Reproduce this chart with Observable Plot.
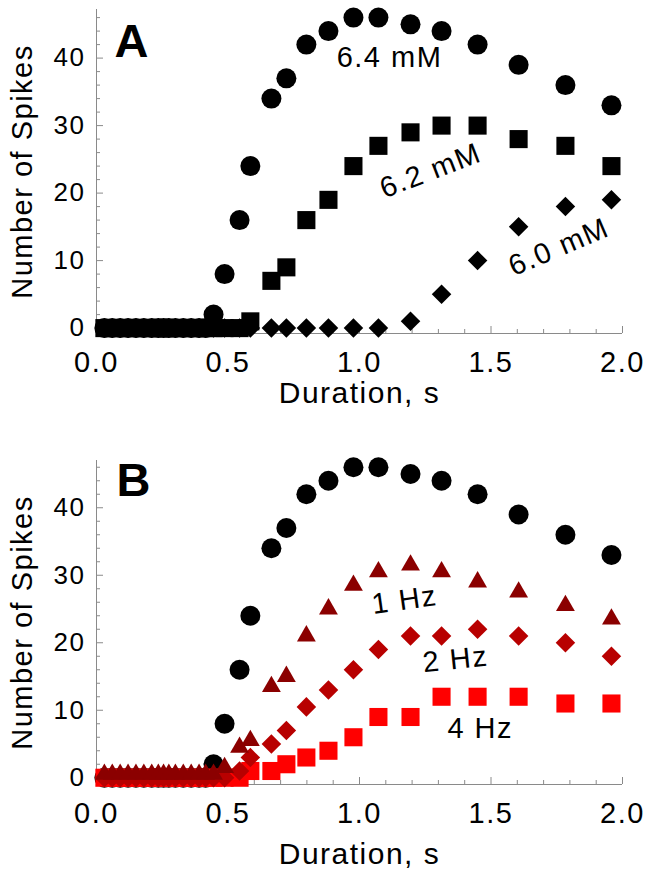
<!DOCTYPE html>
<html><head><meta charset="utf-8">
<script src="https://cdn.jsdelivr.net/npm/d3@7"></script>
<script src="https://cdn.jsdelivr.net/npm/@observablehq/plot@0.6"></script>
<style>
html,body{margin:0;padding:0;background:#fff;overflow:hidden;}
#chart svg text{letter-spacing:1.5px;}
</style></head>
<body><div id="chart"></div>
<script>
// Stimulus durations (s)
const duration = [0.03,0.06,0.09,0.12,0.15,0.18,0.21,0.235,0.255,0.275,0.30,0.33,0.36,0.39,0.415,
  0.445,0.487,0.544,0.585,0.665,0.722,0.798,0.882,0.977,1.072,1.194,1.312,1.449,1.605,1.783,1.958];

// Panel A: [K+] series
const spikes64 = [0,0,0,0,0,0,0,0,0,0,0,0,0,0,0, 2,8,16,24,34,37,42,44,46,46,45,44,42,39,36,33];
const spikes62 = [0,0,0,0,0,0,0,0,0,0,0,0,0,0,0,0,0,0, 1,7,9,16,19,24,27,29,30,30,28,27,24];
const spikes60 = [0,0,0,0,0,0,0,0,0,0,0,0,0,0,0,0,0,0,0,0,0,0,0,0,0, 1,5,10,15,18,19];

// Panel B: frequency series
const hz1 = [0.5,0.5,0.5,0.5,0.5,0.5,0.5,0.5,0.5,0.5,0.5,0.5,0.5,0.5,0.5,0.5, 1.5,4.5,5.5,13.5,15,21,25,28.5,30.5,31.5,30.5,29,27.5,25.5,23.5];
const hz2 = [0,0,0,0,0,0,0,0,0,0,0,0,0,0,0,0,0, 1,3,5,7,10.5,13,16,19,21,21,22,21,20,18];
const hz4 = [0,0,0,0,0,0,0,0,0,0,0,0,0,0,0,0,0,0, 1,1,2,3,4,6,9,9,12,12,12,11,11];

// Annotations
const notesALabel = ["6.4 mM", "6.2 mM", "6.0 mM"];
const notesAX = [1.114, 1.27, 1.758];
const notesAY = [40.0, 23.3, 12.0];
const notesAAngle = [0, -21, -23];
const notesBLabel = ["1 Hz", "2 Hz", "4 Hz"];
const notesBX = [1.171, 1.365, 1.459];
const notesBY = [26.3, 17.5, 7.25];
const notesBAngle = [-8, -6, 0];

// Ticks
const xMajor = [0, 0.5, 1.0, 1.5, 2.0];
const xMinor = [0.1,0.2,0.3,0.4,0.6,0.7,0.8,0.9,1.1,1.2,1.3,1.4,1.6,1.7,1.8,1.9];
const yMajor = [0, 10, 20, 30, 40];
const yMinor = [2,4,6,8,12,14,16,18,22,24,26,28,32,34,36,38,42,44,46];

const xDomain = [0, 2];
const axisColor = "#8a8a8a";
const font = "'Liberation Sans', Arial, sans-serif";

const rows = (ys) => duration.map((x, i) => ({x, y: ys[i]}));
const notes = (labels, xs, ys, angles) => labels.map((t, i) => ({t, x: xs[i], y: ys[i], a: angles[i]}));

function axes(yDomain, labelDy) {
  return [
    Plot.ruleX([xDomain[0]], {stroke: axisColor}),
    Plot.ruleY([yDomain[0]], {stroke: axisColor}),
    Plot.axisX(xMinor, {tickSize: -4, tickFormat: () => "", label: null, stroke: axisColor}),
    Plot.axisX(xMajor, {tickSize: -7, tickFormat: () => "", label: null, stroke: axisColor}),
    Plot.axisX(xMajor, {tickSize: 0, tickPadding: 17.5, tickFormat: d3.format(".1f"), label: null, fontSize: 29, fill: "black"}),
    Plot.axisY(yMinor, {tickSize: -4, tickFormat: () => "", label: null, stroke: axisColor}),
    Plot.axisY(yMajor, {tickSize: -7, tickFormat: () => "", label: null, stroke: axisColor}),
    Plot.axisY(yMajor, {tickSize: 0, tickPadding: 11, label: null, fontSize: 26, fill: "black"}),
    Plot.text(["Number of Spikes"], {frameAnchor: "left", rotate: -90, dx: -74, textAnchor: "middle", lineAnchor: "middle", fontSize: 29, fill: "black"}),
    Plot.text(["Duration, s"], {frameAnchor: "bottom", dy: labelDy, textAnchor: "middle", lineAnchor: "middle", fontSize: 30, fill: "black"})
  ];
}

const style = {fontFamily: font, background: "white", overflow: "visible"};

const yDomainA = [-0.8, 47.2];
const plotA = Plot.plot({
  width: 652, height: 440,
  marginLeft: 96, marginRight: 30, marginTop: 9, marginBottom: 107,
  x: {domain: xDomain}, y: {domain: yDomainA},
  style,
  marks: [
    ...axes(yDomainA, 60),
    Plot.dot(rows(spikes64), {x: "x", y: "y", symbol: "circle", r: 10, fill: "black"}),
    Plot.dot(rows(spikes62), {x: "x", y: "y", symbol: "square", r: 10.2, fill: "black"}),
    Plot.dot(rows(spikes60), {x: "x", y: "y", symbol: "diamond2", r: 8.8, fill: "black"}),
    Plot.text(notes(notesALabel, notesAX, notesAY, notesAAngle), {x: "x", y: "y", text: "t", rotate: "a", fontSize: 29, fill: "black"}),
    Plot.text(["A"], {frameAnchor: "top-left", dx: 18, dy: 47.7, textAnchor: "start", lineAnchor: "bottom", fontWeight: "bold", fontSize: 47, fill: "black"})
  ]
});

const yDomainB = [-1.0, 47];
const plotB = Plot.plot({
  width: 652, height: 444,
  marginLeft: 96, marginRight: 30, marginTop: 20, marginBottom: 100,
  x: {domain: xDomain}, y: {domain: yDomainB},
  style,
  marks: [
    ...axes(yDomainB, 70),
    Plot.dot(rows(spikes64), {x: "x", y: "y", symbol: "circle", r: 10, fill: "black"}),
    Plot.dot(rows(hz4), {x: "x", y: "y", symbol: "square", r: 10.2, fill: "#ff0000"}),
    Plot.dot(rows(hz2), {x: "x", y: "y", symbol: "diamond2", r: 8.8, fill: "#b80000"}),
    Plot.dot(rows(hz1), {x: "x", y: "y", symbol: "triangle", r: 7, fill: "#8b0000"}),
    Plot.text(notes(notesBLabel, notesBX, notesBY, notesBAngle), {x: "x", y: "y", text: "t", rotate: "a", fontSize: 29, fill: "black"}),
    Plot.text(["B"], {frameAnchor: "top-left", dx: 20, dy: 35.7, textAnchor: "start", lineAnchor: "bottom", fontWeight: "bold", fontSize: 47, fill: "black"})
  ]
});

const chart = document.getElementById("chart");
chart.appendChild(plotA);
chart.appendChild(plotB);
</script>
</body></html>
